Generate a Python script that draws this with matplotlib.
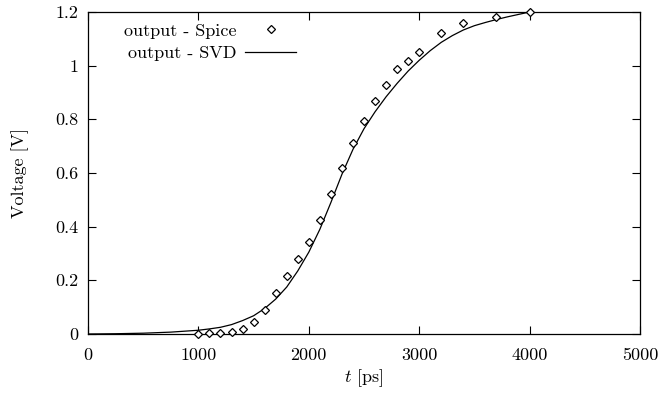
import numpy as np
import matplotlib
matplotlib.use("Agg")
import matplotlib.pyplot as plt

# Spice simulation samples
t_spice = [1000, 1100, 1200, 1300, 1400, 1500, 1600, 1700, 1800, 1900, 2000,
           2100, 2200, 2300, 2400, 2500, 2600, 2700, 2800, 2900, 3000,
           3200, 3400, 3700, 4000]
v_spice = [0.0, 0.003, 0.005, 0.008, 0.02, 0.045, 0.088, 0.152, 0.216, 0.28, 0.344,
           0.424, 0.522, 0.619, 0.712, 0.794, 0.868, 0.928, 0.988, 1.018, 1.05,
           1.12, 1.158, 1.18, 1.2]

# SVD model curve
t_svd = [0, 250, 500, 750, 1000, 1100, 1200, 1300, 1400, 1500, 1600, 1700, 1800,
         1900, 2000, 2100, 2200, 2300, 2400, 2500, 2600, 2700, 2800, 2900,
         3000, 3100, 3200, 3300, 3400, 3500, 3600, 3700, 3800, 3900, 4000]
v_svd = [0.0, 0.001, 0.003, 0.007, 0.014, 0.019, 0.025, 0.035, 0.05, 0.068, 0.095,
         0.13, 0.175, 0.235, 0.305, 0.39, 0.49, 0.595, 0.688, 0.765, 0.828, 0.884,
         0.934, 0.98, 1.02, 1.056, 1.087, 1.112, 1.133, 1.149, 1.161, 1.172,
         1.182, 1.191, 1.2]

xticks = [0, 1000, 2000, 3000, 4000, 5000]
yticks = [0, 0.2, 0.4, 0.6, 0.8, 1.0, 1.2]
ytick_labels = ['0', '0.2', '0.4', '0.6', '0.8', '1', '1.2']

plt.rcParams['font.family'] = 'cmr10'
plt.rcParams['mathtext.fontset'] = 'cm'
plt.rcParams['axes.formatter.use_mathtext'] = True

fs = 13

fig = plt.figure(figsize=(6.58, 3.98), dpi=100)
ax = fig.add_axes([88/658, 1 - 334/398, 552/658, 322/398])

ax.plot(t_spice, v_spice, linestyle='none', marker='D', ms=4.3,
        mfc='white', mec='black', mew=0.9, label='output - Spice',
        zorder=3, clip_on=False)
ax.plot(t_svd, v_svd, color='black', lw=0.9, label='output - SVD')

ax.set_xlim(0, 5000)
ax.set_ylim(0, 1.2)
ax.set_xticks(xticks)
ax.set_xticklabels([str(x) for x in xticks])
ax.set_yticks(yticks)
ax.set_yticklabels(ytick_labels)
ax.tick_params(direction='in', top=True, right=True, length=6, width=0.8,
               labelsize=fs)
ax.tick_params(axis='x', pad=10)
ax.tick_params(axis='y', pad=7)
for s in ax.spines.values():
    s.set_linewidth(0.9)

ax.set_xlabel(r'$t$ [ps]', fontsize=fs, labelpad=3)
ax.set_ylabel('Voltage [V]', fontsize=fs, labelpad=19)

ax.legend(loc='upper right', bbox_to_anchor=((296 - 88) / 552, (334 - 23) / 322),
          frameon=False, markerfirst=False, borderpad=0, borderaxespad=0,
          handlelength=2.8, handletextpad=0.5, labelspacing=0.38,
          fontsize=fs)

fig.savefig('out.png', dpi=100)
